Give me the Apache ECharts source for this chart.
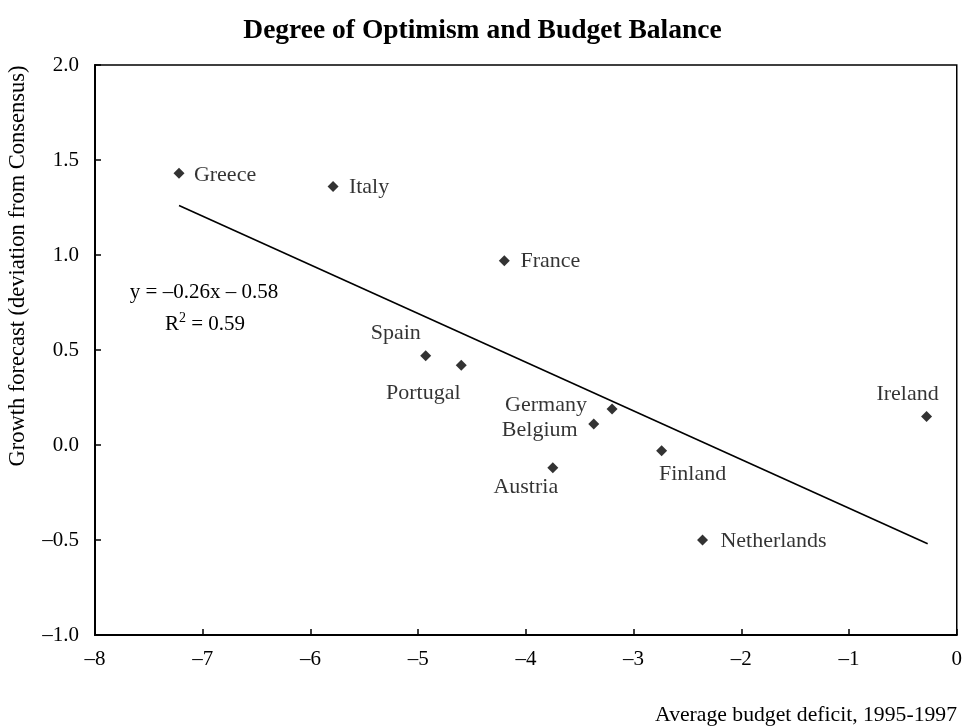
<!DOCTYPE html>
<html lang="en">
<head>
    <meta charset="UTF-8">
    <title>Degree of Optimism and Budget Balance</title>
    <style>
        html, body { margin: 0; padding: 0; width: 100%; height: 100%; background: #fff; }
        #main { width: 965px; height: 727px; }
    </style>
</head>
<body>
    <div id="main"></div>
    <script src="https://cdn.jsdelivr.net/npm/echarts@6/dist/echarts.min.js"></script>
    <script>
        // data
        var countries = ['Greece', 'Italy', 'France', 'Spain', 'Portugal', 'Germany', 'Belgium', 'Austria', 'Finland', 'Netherlands', 'Ireland'];
        var deficit = [-7.22, -5.79, -4.20, -4.93, -4.60, -3.20, -3.37, -3.75, -2.74, -2.36, -0.28];
        var growth = [1.43, 1.36, 0.97, 0.47, 0.42, 0.19, 0.11, -0.12, -0.03, -0.50, 0.15];
        // fitted line end points
        var trendX = [-7.22, -0.27];
        var trendY = [1.26, -0.52];

        // where each name sits relative to its point (pixels)
        var labelOffset = {
            Greece: [46, 2], Italy: [36, 1], France: [46, 1], Spain: [-30, -22],
            Portugal: [-38, 28], Germany: [-66, -4], Belgium: [-54, 6], Austria: [-27, 19],
            Finland: [31, 24], Netherlands: [71, 1], Ireland: [-19, -22]
        };

        var font = 'Liberation Serif';
        function dash(v) { return String(v).replace('-', '\u2013'); }

        var points = countries.map(function (c, i) {
            return {
                name: c,
                value: [deficit[i], growth[i]],
                label: { offset: labelOffset[c] }
            };
        });
        var trend = trendX.map(function (x, i) { return [x, trendY[i]]; });

        var myChart = echarts.init(document.getElementById('main'));
        myChart.setOption({
            backgroundColor: '#fff',
            animation: false,
            title: {
                text: 'Degree of Optimism and Budget Balance',
                left: 'center',
                top: 12,
                textStyle: { fontFamily: font, fontWeight: 'bold', fontSize: 27.5, color: '#000' }
            },
            grid: {
                left: 95, top: 65, right: 8, bottom: 92,
                show: true, borderColor: '#000', borderWidth: 1.5
            },
            xAxis: {
                type: 'value', min: -8, max: 0, interval: 1,
                axisLine: { onZero: false, lineStyle: { color: '#000', width: 2 } },
                axisTick: { inside: true, length: 6, lineStyle: { color: '#000', width: 1.5 } },
                splitLine: { show: false },
                axisLabel: {
                    margin: 14, color: '#000', fontFamily: font, fontSize: 21,
                    formatter: function (v) { return dash(v); }
                }
            },
            yAxis: {
                type: 'value', min: -1, max: 2, interval: 0.5,
                axisLine: { show: true, onZero: false, lineStyle: { color: '#000', width: 2 } },
                axisTick: { show: true, inside: true, length: 6, lineStyle: { color: '#000', width: 1.5 } },
                splitLine: { show: false },
                axisLabel: {
                    margin: 16, color: '#000', fontFamily: font, fontSize: 21,
                    formatter: function (v) { return dash(v.toFixed(1)); }
                }
            },
            graphic: [
                {
                    type: 'text', x: 18, y: 266, rotation: Math.PI / 2,
                    style: {
                        text: 'Growth forecast (deviation from Consensus)',
                        fontFamily: font, fontSize: 22.5, fill: '#000',
                        align: 'center', verticalAlign: 'middle'
                    }
                },
                {
                    type: 'text', x: 957, y: 715,
                    style: {
                        text: 'Average budget deficit, 1995-1997',
                        fontFamily: font, fontSize: 21.7, fill: '#000',
                        align: 'right', verticalAlign: 'middle'
                    }
                },
                {
                    type: 'text', x: 204, y: 292,
                    style: {
                        text: 'y = \u20130.26x \u2013 0.58',
                        fontFamily: font, fontSize: 21, fill: '#000',
                        align: 'center', verticalAlign: 'middle'
                    }
                },
                {
                    type: 'text', x: 205, y: 324,
                    style: {
                        text: '{n|R}{s|2}{n| = 0.59}',
                        align: 'center', verticalAlign: 'middle',
                        rich: {
                            n: { fontFamily: font, fontSize: 21, fill: '#000', color: '#000' },
                            s: { fontFamily: font, fontSize: 14, fill: '#000', color: '#000', verticalAlign: 'top', padding: [0, 0, 12, 0] }
                        }
                    }
                }
            ],
            series: [
                {
                    type: 'line',
                    data: trend,
                    symbol: 'none',
                    silent: true,
                    lineStyle: { color: '#000', width: 1.6 }
                },
                {
                    type: 'scatter',
                    data: points,
                    symbol: 'diamond',
                    symbolSize: 11,
                    itemStyle: { color: '#000' },
                    label: {
                        show: true,
                        position: 'inside',
                        formatter: '{b}',
                        color: '#000',
                        fontFamily: font,
                        fontSize: 22
                    }
                }
            ]
        });
    </script>
</body>
</html>
